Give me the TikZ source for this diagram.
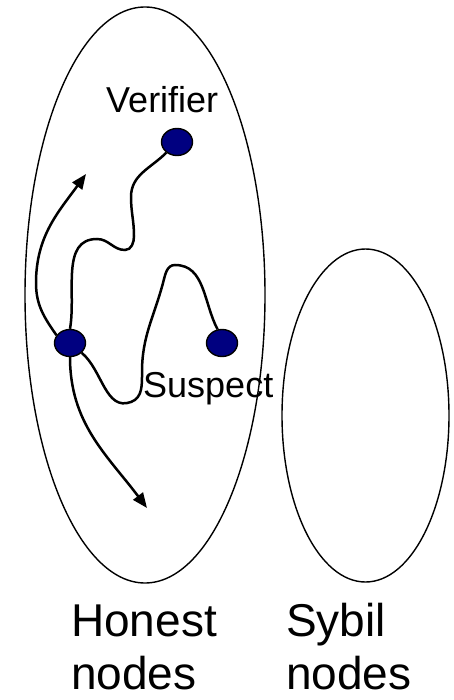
\documentclass[tikz,border=0pt]{standalone}
\usepackage{fontspec}
\setmainfont{Liberation Sans}
\usetikzlibrary{arrows.meta,shapes.geometric}
\definecolor{dotblue}{RGB}{0,0,128}
\begin{document}
\begin{tikzpicture}[x=1pt,y=1pt,
  region/.style={draw=black,line width=1.4pt},
  peer/.style={ellipse,draw=black,fill=dotblue,line width=1.4pt,
    minimum width=31pt,minimum height=27pt,inner sep=0pt},
  walk/.style={draw=black,line width=2.5pt},
  walkarrow/.style={walk,-{Triangle[length=15pt,width=12pt]}},
  smalllabel/.style={inner sep=0pt,anchor=base west,font=\fontsize{36}{43}\selectfont},
  biglabel/.style={inner sep=0pt,anchor=base west,align=left,text depth=0pt,
    font=\fontsize{46}{53}\selectfont}]
\useasboundingbox (0,0) rectangle (454,-700);

% the two regions
\draw[region] (145,-295) ellipse [x radius=120, y radius=288];
\draw[region] (365.5,-415.5) ellipse [x radius=83.5, y radius=166.5];

% peers
\node[peer] (v) at (177,-142) {};
\node[peer] (l) at (70,-343) {};
\node[peer] (s) at (222,-343) {};

% labels (a two-line node has its base on the last line)
\node[smalllabel] (vlab) at (106,-113) {Verifier};
\node[smalllabel] (slab) at (143,-397) {Suspect};
\node[biglabel] (honest) at (71,-689) {Honest\\nodes};
\node[biglabel] (sybil) at (286,-689) {Sybil\\nodes};

% free ends of the random walks
\coordinate (uptip) at (86,-174);
\coordinate (downtip) at (147,-508);

% walk from the verifier
\draw[walk] (v.225) to[out=225,in=90] (131,-197)
  to[out=270,in=90] (134,-236)
  to[out=270,in=0] (125,-250)
  to[out=180,in=0] (97,-239)
  to[out=180,in=80] (l.north);

% walk from the suspect
\draw[walk] (l.-40) to[out=-40,in=200] (131,-402)
  to[out=20,in=270] (142,-372)
  to[out=90,in=255] (163,-283)
  to[out=75,in=180] (175,-265)
  to[out=0,in=118] (s.108);

% random walks leaving the middle peer
\draw[walkarrow] (l.150) to[out=125,in=270] (36,-283) to[out=90,in=234] (uptip);
\draw[walkarrow] (l.south) to[out=270,in=127] (downtip);
\end{tikzpicture}
\end{document}
